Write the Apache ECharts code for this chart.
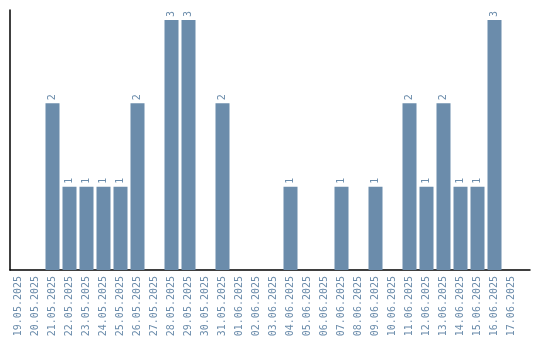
<!DOCTYPE html>
<html><head><meta charset="utf-8">
<script src="https://cdn.jsdelivr.net/npm/echarts@6/dist/echarts.min.js"></script>
<style>html,body{margin:0;padding:0;background:#fff}#c{width:540px;height:340px}</style>
</head><body><div id="c"></div>
<script>
const categories = ["19.05.2025","20.05.2025","21.05.2025","22.05.2025","23.05.2025","24.05.2025","25.05.2025","26.05.2025","27.05.2025","28.05.2025","29.05.2025","30.05.2025","31.05.2025","01.06.2025","02.06.2025","03.06.2025","04.06.2025","05.06.2025","06.06.2025","07.06.2025","08.06.2025","09.06.2025","10.06.2025","11.06.2025","12.06.2025","13.06.2025","14.06.2025","15.06.2025","16.06.2025","17.06.2025"];
const values = [0,0,2,1,1,1,1,2,0,3,3,0,2,0,0,0,1,0,0,1,0,1,0,2,1,2,1,1,3,0];
const color = '#6b8cab';
const font = 'DejaVu Sans Mono';
const chart = echarts.init(document.getElementById('c'));
chart.setOption({
  animation:false,
  grid:[{left:10,right:20,top:10,bottom:70},{left:10,right:10,top:10,bottom:70}],
  xAxis:[{type:'category',data:categories,gridIndex:0,
    axisLine:{show:false},
    axisTick:{show:false},
    axisLabel:{rotate:90,interval:0,color:color,fontFamily:font,fontSize:10,margin:6}},
    {type:'value',gridIndex:1,min:0,max:1,axisLine:{show:true,onZero:false,lineStyle:{color:'#000',width:1.5}},
     axisTick:{show:false},axisLabel:{show:false},splitLine:{show:false}}],
  yAxis:[{type:'value',min:0,max:3.12,gridIndex:0,
    axisLine:{show:true,lineStyle:{color:'#000',width:1.5}},
    axisTick:{show:false},axisLabel:{show:false},splitLine:{show:false}},
    {type:'value',gridIndex:1,min:0,max:1,axisLine:{show:false},axisTick:{show:false},axisLabel:{show:false},splitLine:{show:false}}],
  series:[{type:'bar',xAxisIndex:0,yAxisIndex:0,data:values.map(v=>v===0?{value:v,label:{show:false}}:v),barWidth:14,
    itemStyle:{color:color},
    label:{show:true,position:'top',rotate:90,align:'left',verticalAlign:'middle',distance:3,
      color:color,fontFamily:font,fontSize:10}}]
});
</script></body></html>
